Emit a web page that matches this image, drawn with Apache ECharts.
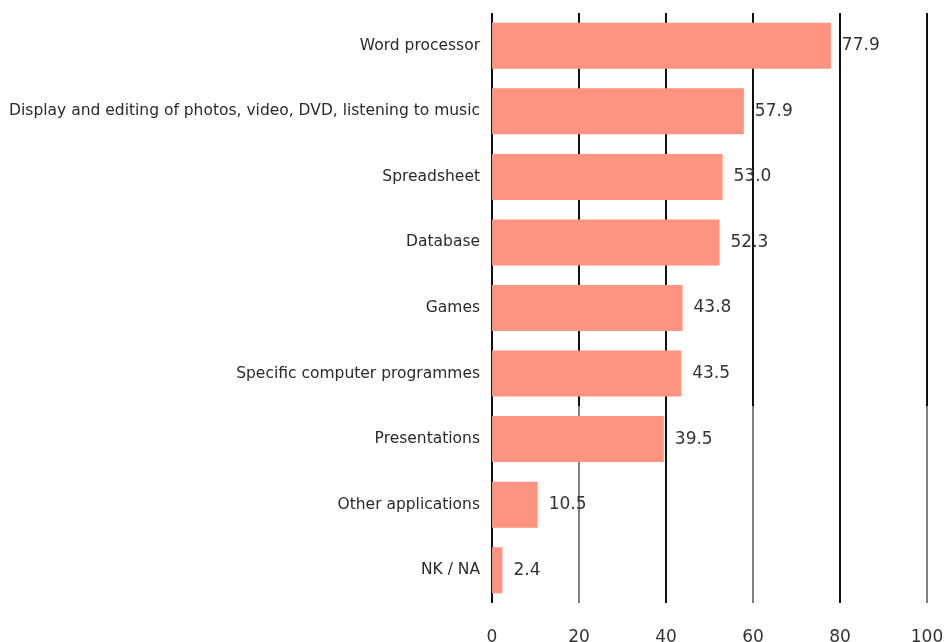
<!DOCTYPE html>
<html>
<head>
<meta charset="utf-8">
<script src="https://cdn.jsdelivr.net/npm/echarts@6/dist/echarts.min.js"></script>
<style>
  html, body { margin: 0; padding: 0; background: #fff; }
  #chart { width: 946px; height: 642px; }
</style>
</head>
<body>
<div id="chart"></div>
<script>
// Applications used, share in percent (top to bottom)
const categories = [
  'Word processor',
  'Display and editing of photos, video, DVD, listening to music',
  'Spreadsheet',
  'Database',
  'Games',
  'Specific computer programmes',
  'Presentations',
  'Other applications',
  'NK / NA'
];
const values = [77.9, 57.9, 53.0, 52.3, 43.8, 43.5, 39.5, 10.5, 2.4];
const axisTicks = [0, 20, 40, 60, 80, 100];

const FONT = '"DejaVu Sans", Verdana, sans-serif';

const chart = echarts.init(document.getElementById('chart'), null, { renderer: 'canvas' });

// Vertical gridlines: every other line switches to a thin grey stroke
// for the lower three rows.
function renderGridLine(params, api) {
  const idx = params.dataIndex;
  const v = api.value(0);
  const cs = params.coordSys;
  const x = Math.round(api.coord([v, 0])[0]);
  const top = cs.y;
  const bottom = cs.y + cs.height;
  const band = api.size([0, 1])[1];
  const split = api.coord([0, 5])[1] + band / 2;
  const thick = { stroke: '#111', lineWidth: 2 };
  const thin = { stroke: '#3a3a3a', lineWidth: 1.3 };
  const children = [];
  if (idx % 2 === 0) {
    children.push({ type: 'line', shape: { x1: x, y1: top, x2: x, y2: bottom }, style: thick });
  } else {
    children.push({ type: 'line', shape: { x1: x, y1: top, x2: x, y2: split }, style: thick });
    children.push({ type: 'line', shape: { x1: x, y1: split, x2: x, y2: bottom }, style: thin });
  }
  return { type: 'group', children };
}

chart.setOption({
  animation: false,
  backgroundColor: '#ffffff',
  grid: {
    left: 492, right: 19, top: 13, bottom: 39,
    containLabel: false,
    outerBoundsMode: 'none'
  },
  xAxis: {
    type: 'value',
    min: axisTicks[0],
    max: axisTicks[axisTicks.length - 1],
    interval: axisTicks[1] - axisTicks[0],
    axisLine: { show: false },
    axisTick: { show: false },
    axisLabel: {
      margin: 26,
      fontFamily: FONT,
      fontSize: 17,
      color: '#333'
    },
    splitLine: { show: false }
  },
  yAxis: {
    type: 'category',
    data: categories,
    inverse: true,
    axisLine: { show: false },
    axisTick: { show: false },
    axisLabel: {
      margin: 12,
      fontFamily: FONT,
      fontSize: 15.5,
      color: '#2a2a2a'
    }
  },
  series: [
    {
      type: 'custom',
      renderItem: renderGridLine,
      data: axisTicks.map(t => [t]),
      encode: { x: 0 },
      z: 1,
      silent: true
    },
    {
      type: 'bar',
      data: values,
      barWidth: 46,
      z: 2,
      itemStyle: { color: '#fe9382' },
      label: {
        show: true,
        position: 'right',
        distance: 11,
        formatter: p => p.value.toFixed(1),
        fontFamily: FONT,
        fontSize: 17,
        color: '#333'
      }
    }
  ]
});
</script>
</body>
</html>
